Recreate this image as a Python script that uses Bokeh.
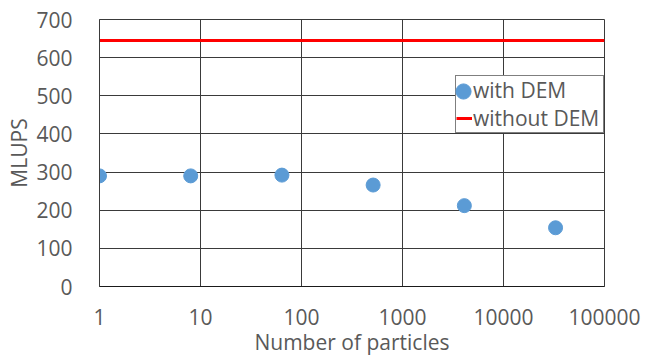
from bokeh.plotting import figure
from bokeh.models import FixedTicker, NumeralTickFormatter, Legend, LegendItem, Range1d
from bokeh.embed import file_html
from bokeh.resources import INLINE

# ---- data ----
particles = [1, 8, 64, 512, 4096, 32768]
mlups_with_dem = [290, 290, 292, 266, 212, 154]
without_dem_x = [1, 100000]
without_dem_y = [645, 645]
x_ticks = [1, 10, 100, 1000, 10000, 100000]
y_ticks = [0, 100, 200, 300, 400, 500, 600, 700]

FONT = "Open Sans"
TXT = "#595959"
GRID = "#3a3a3a"

p = figure(width=656, height=358, x_axis_type="log",
           x_range=Range1d(1, 100000), y_range=Range1d(0, 700),
           output_backend="svg", toolbar_location=None,
           min_border_left=99, min_border_right=52,
           min_border_top=19, min_border_bottom=71)

p.background_fill_color = "white"
p.border_fill_color = "white"
p.outline_line_color = GRID
p.outline_line_width = 1

# axes
p.xaxis.ticker = FixedTicker(ticks=x_ticks)
p.xaxis.formatter = NumeralTickFormatter(format="0")
p.yaxis.ticker = FixedTicker(ticks=y_ticks)
for ax in (p.xaxis[0], p.yaxis[0]):
    ax.major_tick_line_color = None
    ax.minor_tick_line_color = None
    ax.major_label_text_font = FONT
    ax.major_label_text_font_size = "21px"
    ax.major_label_text_color = TXT
    ax.axis_label_text_font = FONT
    ax.axis_label_text_font_size = "21px"
    ax.axis_label_text_font_style = "normal"
    ax.axis_label_text_color = TXT
p.xaxis.axis_line_color = "#1a1a1a"
p.yaxis.axis_line_color = GRID
p.xaxis.axis_label = "Number of particles"
p.yaxis.axis_label = "MLUPS"
p.xaxis.major_label_standoff = 16
p.yaxis.major_label_standoff = 21
p.xaxis.axis_label_standoff = 0
p.yaxis.axis_label_standoff = 0

p.xgrid.grid_line_color = GRID
p.ygrid.grid_line_color = GRID
p.xgrid.grid_line_width = 1
p.ygrid.grid_line_width = 1

# glyphs
r_line = p.line(without_dem_x, without_dem_y, line_color="#FF0000", line_width=3)
r_pts = p.scatter(particles, mlups_with_dem, size=14, fill_color="#5B9BD5",
                  line_color="#5B9BD5")

# main legend box (border + labels)
leg = Legend(items=[LegendItem(label="with DEM", renderers=[r_pts]),
                    LegendItem(label="without DEM", renderers=[r_line])],
             location=(356, 153), orientation="vertical",
             padding=0, margin=0, spacing=-1,
             glyph_width=16, glyph_height=24, label_height=24,
             label_width=130, label_standoff=1,
             label_text_font=FONT, label_text_font_size="21px",
             label_text_color=TXT,
             border_line_color="black", border_line_width=1,
             background_fill_color="white", background_fill_alpha=1)
p.add_layout(leg, "center")

# overlay legend that draws the larger marker symbol
leg2 = Legend(items=[LegendItem(label=" ", renderers=[r_pts])],
              location=(345, 176), orientation="vertical",
              padding=0, margin=0, spacing=0,
              glyph_width=38, glyph_height=38, label_standoff=0,
              label_width=0, label_text_font_size="1px",
              border_line_color=None, background_fill_alpha=0)
p.add_layout(leg2, "center")

open("out.html", "w").write(file_html(p, INLINE))
